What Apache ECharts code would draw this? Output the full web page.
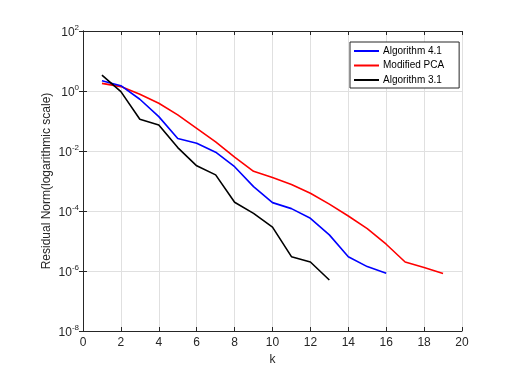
<!DOCTYPE html>
<html>
<head>
<meta charset="utf-8">
<script src="https://cdn.jsdelivr.net/npm/echarts@6/dist/echarts.min.js"></script>
<style>
html, body { margin: 0; padding: 0; background: #fff; }
#main { width: 513px; height: 371px; }
</style>
</head>
<body>
<div id="main"></div>
<script>
var kAlg41 = [1, 2, 3, 4, 5, 6, 7, 8, 9, 10, 11, 12, 13, 14, 15, 16];
var valAlg41 = [2.2, 1.5, 0.53, 0.14, 0.026, 0.018, 0.0091, 0.0030, 6.5e-4, 1.9e-4, 1.2e-4, 5.7e-5, 1.6e-5, 3.0e-6, 1.4e-6, 8.4e-7];

var kPca = [1, 2, 3, 4, 5, 6, 7, 8, 9, 10, 11, 12, 13, 14, 15, 16, 17, 18, 19];
var valPca = [1.8, 1.4, 0.78, 0.39, 0.16, 0.057, 0.020, 0.0062, 0.0021, 0.0013, 7.7e-4, 3.9e-4, 1.7e-4, 6.8e-5, 2.6e-5, 7.8e-6, 2.0e-6, 1.3e-6, 8.3e-7];

var kAlg31 = [1, 2, 3, 4, 5, 6, 7, 8, 9, 10, 11, 12, 13];
var valAlg31 = [3.4, 0.95, 0.115, 0.074, 0.013, 0.0032, 0.0016, 1.95e-4, 8.3e-5, 2.9e-5, 3.0e-6, 2.0e-6, 5e-7];

var seriesNames = ['Algorithm 4.1', 'Modified PCA', 'Algorithm 3.1'];

function pairs(ks, vs) {
    return ks.map(function (k, i) { return [k, vs[i]]; });
}

var dom = document.getElementById('main');
var myChart = echarts.init(dom, null, { renderer: 'canvas' });

var axisColor = '#262626';
var fontFam = '"Liberation Sans", Arial, sans-serif';

var option = {
    animation: false,
    grid: { left: 83, right: 51, top: 31, bottom: 40 },
    legend: {
        orient: 'vertical',
        left: 350,
        top: 42,
        data: seriesNames,
        icon: 'rect',
        itemWidth: 25,
        itemHeight: 2,
        itemGap: 4.5,
        padding: [4, 15, 3, 4],
        borderColor: '#262626',
        borderWidth: 1,
        backgroundColor: '#fff',
        textStyle: { fontSize: 10, color: '#000', fontFamily: fontFam, padding: [0, 0, 0, -1] }
    },
    xAxis: [{
        type: 'value',
        min: 0,
        max: 20,
        interval: 2,
        name: 'k',
        nameLocation: 'middle',
        nameGap: 22,
        nameTextStyle: { fontSize: 12, color: axisColor, fontFamily: fontFam },
        axisLine: { lineStyle: { color: axisColor } },
        axisTick: { inside: true, length: 4, lineStyle: { color: axisColor } },
        axisLabel: { fontSize: 12, color: axisColor, fontFamily: fontFam, margin: 6 },
        splitLine: { show: true, lineStyle: { color: '#e0e0e0' } }
    }, {
        type: 'value',
        position: 'top',
        min: 0,
        max: 20,
        interval: 2,
        axisLine: { show: true, lineStyle: { color: axisColor } },
        axisTick: { inside: true, length: 4, lineStyle: { color: axisColor } },
        axisLabel: { show: false },
        splitLine: { show: false }
    }],
    yAxis: [{
        type: 'log',
        logBase: 10,
        min: 1e-8,
        max: 100,
        interval: 2,
        name: 'Residual Norm(logarithmic scale)',
        nameLocation: 'middle',
        nameGap: 30,
        nameMoveOverlap: false,
        nameTextStyle: { fontSize: 12, color: axisColor, fontFamily: fontFam },
        axisLine: { show: true, lineStyle: { color: axisColor } },
        axisTick: { show: true, inside: true, length: 4, lineStyle: { color: axisColor } },
        axisLabel: {
            color: axisColor,
            fontFamily: fontFam,
            margin: 4,
            formatter: function (v) {
                var e = Math.round(Math.log10(v));
                return '{b|10}{s|' + e + '}';
            },
            rich: {
                b: { fontSize: 12, color: axisColor, fontFamily: fontFam, padding: [4, 0, 0, 0] },
                s: { fontSize: 8, color: axisColor, fontFamily: fontFam, padding: [0, 0, 6, 0] }
            }
        },
        splitLine: { show: true, lineStyle: { color: '#e0e0e0' } }
    }, {
        type: 'log',
        logBase: 10,
        min: 1e-8,
        max: 100,
        interval: 2,
        position: 'right',
        axisLine: { show: true, lineStyle: { color: axisColor } },
        axisTick: { show: true, inside: true, length: 4, lineStyle: { color: axisColor } },
        axisLabel: { show: false },
        splitLine: { show: false }
    }],
    series: [{
        name: seriesNames[0],
        type: 'line',
        data: pairs(kAlg41, valAlg41),
        showSymbol: false,
        lineStyle: { color: '#0000ff', width: 1.6 },
        itemStyle: { color: '#0000ff' },
        z: 3
    }, {
        name: seriesNames[1],
        type: 'line',
        data: pairs(kPca, valPca),
        showSymbol: false,
        lineStyle: { color: '#ff0000', width: 1.6 },
        itemStyle: { color: '#ff0000' },
        z: 2
    }, {
        name: seriesNames[2],
        type: 'line',
        data: pairs(kAlg31, valAlg31),
        showSymbol: false,
        lineStyle: { color: '#000000', width: 1.6 },
        itemStyle: { color: '#000000' },
        z: 4
    }]
};

myChart.setOption(option);
window.addEventListener('resize', myChart.resize);
</script>
</body>
</html>
